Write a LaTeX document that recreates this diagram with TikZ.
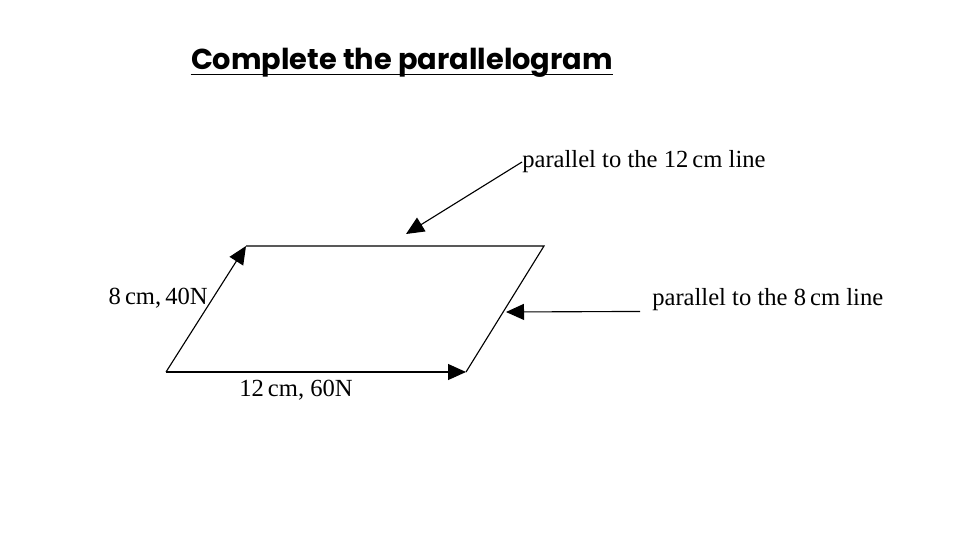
\documentclass[tikz,border=0pt]{standalone}
\usepackage{fontspec}
\setmainfont{Liberation Serif}
\newfontfamily\titlefont{Poppins}
\usetikzlibrary{arrows.meta}

\begin{document}
\begin{tikzpicture}[x=0.025cm,y=-0.025cm,
	side/.style={line width=0.8pt},
	vec/.style={side,-{Triangle[length=0.45cm,width=0.4cm]}},
	lbl/.style={font=\fontsize{17.5}{17.5}\selectfont,inner sep=0pt}]
	\useasboundingbox (0,0) rectangle (960,540);
	\node[inner sep=0pt] (title) at (402,63) {\titlefont\bfseries\fontsize{20.5}{20.5}\selectfont Complete the parallelogram};
	\draw[side] ([yshift=-0.12cm]title.base west) -- ([yshift=-0.12cm]title.base east);
	\coordinate (A) at (166,372);
	\coordinate (B) at (466,372);
	\coordinate (C) at (246,246);
	\coordinate (D) at (544,246);
	\draw[vec] (A) -- (C);
	\draw[vec] (A) -- (B);
	\draw[side] (C) -- (D) -- (B);
	\node[lbl,anchor=west] (p12) at (522,162) {parallel to the 12\,cm line};
	\node[lbl,anchor=west] (p8) at (652,300) {parallel to the 8\,cm line};
	\node[lbl,anchor=east] (v8) at (208,298) {8\,cm,\,40N};
	\node[lbl] (v12) at (296,390) {12\,cm, 60N};
	\coordinate (t12) at (406,234);
	\coordinate (t8) at (506,312);
	\draw[vec] (p12.west) -- (t12);
	\draw[vec] ([xshift=-0.3cm]p8.south west) -- (t8);
\end{tikzpicture}
\end{document}
